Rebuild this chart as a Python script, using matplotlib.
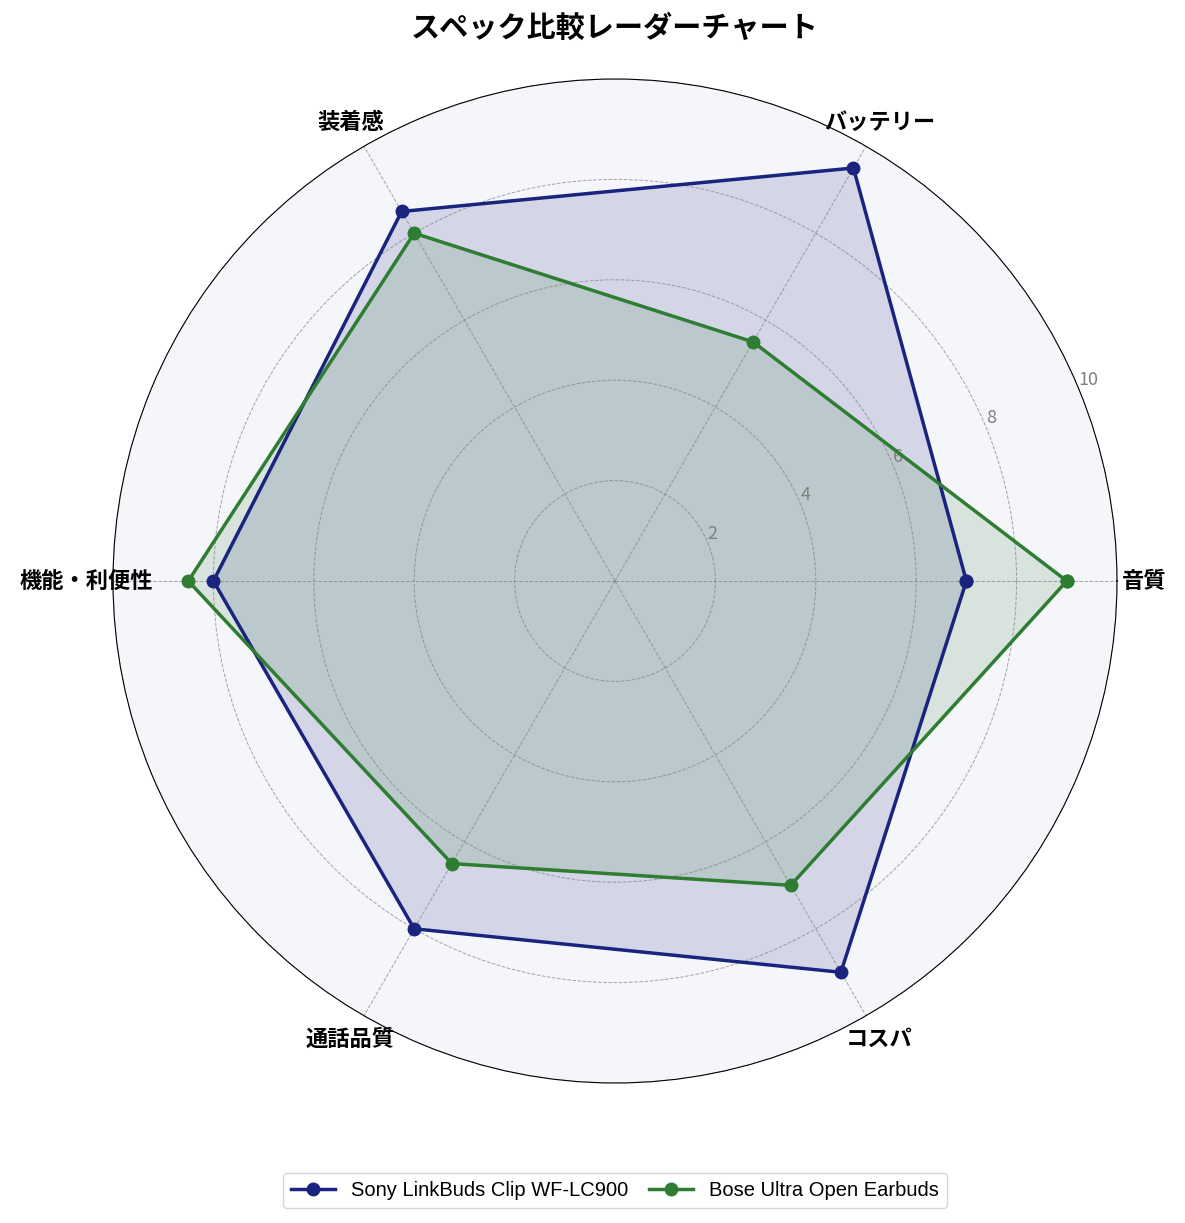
import numpy as np
import matplotlib
matplotlib.use('Agg')
from matplotlib import pyplot as plt

plt.rcParams['font.family'] = ['Noto Sans CJK JP', 'DejaVu Sans']

categories = ['音質', 'バッテリー', '装着感', '機能・利便性', '通話品質', 'コスパ']
sony_values = [7.0, 9.5, 8.5, 8.0, 8.0, 9.0]
bose_values = [9.0, 5.5, 8.0, 8.5, 6.5, 7.0]
series_names = ['Sony LinkBuds Clip WF-LC900', 'Bose Ultra Open Earbuds']
series_colors = ['#1a237e', '#2e7d32']

n = len(categories)
angles = np.linspace(0, 2 * np.pi, n, endpoint=False).tolist()
angles += angles[:1]

fig = plt.figure(figsize=(11.85, 12.23), dpi=100)
ax = fig.add_axes([113 / 1185, 1 - 1083 / 1223, 1004 / 1185, 1004 / 1223], polar=True)
ax.set_facecolor('#f5f6fa')

for vals, name, col in zip([sony_values, bose_values], series_names, series_colors):
    v = vals + vals[:1]
    ax.plot(angles, v, color=col, linewidth=2.5, marker='o', markersize=9, label=name)
    ax.fill(angles, v, color=col, alpha=0.15)

ax.set_ylim(0, 10)
ax.set_yticks([2, 4, 6, 8, 10])
ax.set_yticklabels(['2', '4', '6', '8', '10'], color='gray', fontsize=13)
ax.set_rlabel_position(22.5)
ax.set_xticks(angles[:-1])
ax.set_xticklabels(categories, fontsize=16, fontweight='bold')
ax.tick_params(axis='x', pad=9)
ax.grid(color='gray', linestyle='--', linewidth=0.7, alpha=0.7)
ax.spines['polar'].set_color('black')

# タイトルと凡例はレーダーの中心に合わせる
cx = 615 / 1185
fig.text(cx, 0.977, 'スペック比較レーダーチャート', fontsize=21, fontweight='bold',
         ha='center', va='center')

fig.legend(loc='lower center', ncol=2, bbox_to_anchor=(cx, 0.004),
           prop={'family': ['Liberation Sans', 'DejaVu Sans'], 'size': 14.5},
           columnspacing=1.0, handletextpad=0.8, handlelength=2.2)

fig.savefig('out.png', dpi=100)
